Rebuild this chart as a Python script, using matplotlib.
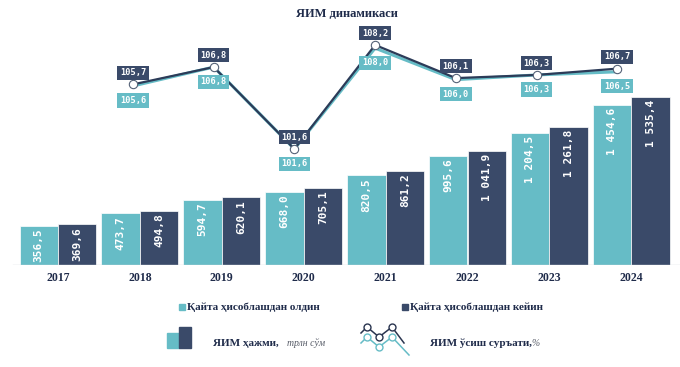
import matplotlib.pyplot as plt
import numpy as np

years = ["2017", "2018", "2019", "2020", "2021", "2022", "2023", "2024"]
gdp_before = [356.5, 473.7, 594.7, 668.0, 820.5, 995.6, 1204.5, 1454.6]
gdp_after = [369.6, 494.8, 620.1, 705.1, 861.2, 1041.9, 1261.8, 1535.4]
growth_before = [105.6, 106.8, 101.6, 108.0, 106.0, 106.3, 106.5]
growth_after = [105.7, 106.8, 101.6, 108.2, 106.1, 106.3, 106.7]

TEAL = "#66bcc6"
NAVY = "#3a4a69"
LINE_NAVY = "#2c3b58"
TXT = "#1f2b4a"

W, H = 680, 367


def fmt(v):
    return f"{v:,.1f}".replace(",", " ").replace(".", ",")


fig = plt.figure(figsize=(W / 100, H / 100), dpi=100)

# Bars: GDP volume
ax = fig.add_axes([0, 1 - 265 / H, 1, (265 - 30) / H])
x = np.arange(len(years))
pitch = 81.9
ax.set_xlim(-58 / pitch, (W - 58) / pitch)
ax.set_ylim(0, 235 / 0.1097)
bw = 0.47
ax.bar(x - bw / 2, gdp_before, bw, color=TEAL, edgecolor="white", linewidth=0.5)
ax.bar(x + bw / 2, gdp_after, bw, color=NAVY, edgecolor="white", linewidth=0.5)
for i in range(len(years)):
    for v, off in ((gdp_before[i], -bw / 2), (gdp_after[i], bw / 2)):
        ax.annotate(fmt(v), (x[i] + off, v), xytext=(0, -2), textcoords="offset points",
                    rotation=90, ha="center", va="top", color="white",
                    fontsize=8, fontweight="bold", family="DejaVu Sans Mono")
ax.axhline(0, xmin=13 / W, xmax=1, color="#d3d7de", linewidth=1)
for s in ax.spines.values():
    s.set_visible(False)
ax.set_yticks([])
ax.set_xticks(x)
ax.set_xticklabels(years, fontsize=8.5, fontweight="bold", color=TXT, family="Liberation Serif")
ax.tick_params(axis="x", length=0, pad=5)

# Growth line
lx = fig.add_axes([0, 1 - 265 / H, 1, (265 - 30) / H], facecolor="none")
xi = np.arange(len(growth_after))
lx.set_xlim(-133 / 80.7, (W - 133) / 80.7)
vmin = 108.2 - 220 / 15.76
lx.set_ylim(vmin, vmin + 235 / 15.76)
lx.plot(xi, growth_before, color=TEAL, linewidth=2.2)
lx.plot(xi, growth_after, color=LINE_NAVY, linewidth=1.6, marker="o", markersize=6,
        markerfacecolor="white", markeredgecolor="#556277", markeredgewidth=0.8)
for i in range(len(xi)):
    lx.annotate(fmt(growth_after[i]), (xi[i], growth_after[i]), xytext=(0, 8.5),
                textcoords="offset points", ha="center", va="center", color="white",
                fontsize=6.2, fontweight="bold", family="DejaVu Sans Mono",
                bbox=dict(boxstyle="square,pad=0.3", fc=NAVY, ec="none"))
    lx.annotate(fmt(growth_before[i]), (xi[i], growth_before[i]), xytext=(0, -10.5),
                textcoords="offset points", ha="center", va="center", color="white",
                fontsize=6.2, fontweight="bold", family="DejaVu Sans Mono",
                bbox=dict(boxstyle="square,pad=0.3", fc=TEAL, ec="none"))
lx.axis("off")

# Title
fig.text(347 / W, 1 - 14 / H, "ЯИМ динамикаси", ha="center", va="center",
         fontsize=9, fontweight="bold", color=TXT, family="Liberation Serif")

# Legend
fig.patches.append(plt.Rectangle((179 / W, 1 - 310 / H), 6 / W, 6 / H, color=TEAL,
                                  transform=fig.transFigure))
fig.text(187 / W, 1 - 307 / H, "Қайта ҳисоблашдан олдин", ha="left", va="center",
         fontsize=8, fontweight="bold", color=TXT, family="Liberation Serif")
fig.patches.append(plt.Rectangle((402 / W, 1 - 310 / H), 6 / W, 6 / H, color=NAVY,
                                  transform=fig.transFigure))
fig.text(410 / W, 1 - 307 / H, "Қайта ҳисоблашдан кейин", ha="left", va="center",
         fontsize=8, fontweight="bold", color=TXT, family="Liberation Serif")

# Icons
fig.patches.append(plt.Rectangle((167 / W, 1 - 348 / H), 12 / W, 15 / H, color=TEAL,
                                  transform=fig.transFigure))
fig.patches.append(plt.Rectangle((179 / W, 1 - 348 / H), 12 / W, 21 / H, color=NAVY,
                                  transform=fig.transFigure))
ic = fig.add_axes([358 / W, 1 - 358 / H, 54 / W, 38 / H])
ic.set_xlim(358, 412)
ic.set_ylim(358, 320)
ic.plot([361, 367, 379, 392, 404], [333, 327, 337, 327, 343], color="#2a3550", linewidth=1.1)
ic.plot([361, 367, 379, 392, 409], [343, 337, 347, 337, 355], color=TEAL, linewidth=1.1)
ic.plot([367, 379, 392], [327, 337, 327], "o", color="#2a3550", markersize=5,
        markerfacecolor="white", markeredgewidth=1)
ic.plot([367, 379, 392], [337, 347, 337], "o", color=TEAL, markersize=5,
        markerfacecolor="white", markeredgewidth=1)
ic.axis("off")

fig.text(213 / W, 1 - 343 / H, "ЯИМ ҳажми,", ha="left", va="center",
         fontsize=8, fontweight="bold", color=TXT, family="Liberation Serif")
fig.text(287 / W, 1 - 343 / H, "трлн сўм", ha="left", va="center",
         fontsize=7, style="italic", color="#555a66", family="Liberation Serif")
fig.text(430 / W, 1 - 343 / H, "ЯИМ ўсиш суръати,", ha="left", va="center",
         fontsize=8, fontweight="bold", color=TXT, family="Liberation Serif")
fig.text(531 / W, 1 - 343 / H, "%", ha="left", va="center",
         fontsize=7, style="italic", color="#555a66", family="Liberation Serif")

fig.savefig("out.png", dpi=100)
